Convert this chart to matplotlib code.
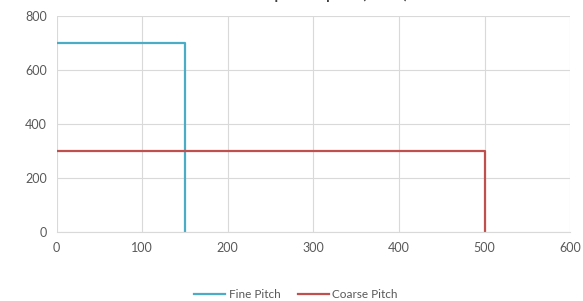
import matplotlib
matplotlib.use("Agg")
from matplotlib import pyplot as plt

# data
fine_x = [0, 150, 150]
fine_y = [700, 700, 0]
coarse_x = [0, 500, 500]
coarse_y = [300, 300, 0]
x_ticks = [0, 100, 200, 300, 400, 500, 600]
y_ticks = [0, 200, 400, 600, 800]

plt.rcParams["font.family"] = ["Lato", "DejaVu Sans"]

fig = plt.figure(figsize=(5.83, 3.01), dpi=100)
ax = fig.add_axes([0.097, 0.229, 0.881, 0.718])

ax.plot(fine_x, fine_y, color="#4BACC6", lw=1.6, label="Fine Pitch")
ax.plot(coarse_x, coarse_y, color="#C0504D", lw=1.6, label="Coarse Pitch")

ax.set_xlim(0, 600)
ax.set_ylim(0, 800)
ax.set_xticks(x_ticks)
ax.set_yticks(y_ticks)
ax.grid(True, color="#D9D9D9", lw=0.8)
ax.set_axisbelow(True)
for s in ["top", "right", "left"]:
    ax.spines[s].set_visible(False)
ax.spines["bottom"].set_color("#D9D9D9")
ax.tick_params(length=0, labelsize=9, labelcolor="#595959", pad=7)

# title is almost entirely cut off at the top edge, as in the source image
fig.text(0.5, 1 + 1.5 / 301, "Feed Rate vs. Spindle Speed (mm/s)", ha="center",
         va="baseline", fontsize=10.5, fontweight="bold", color="#404040")

fig.legend(loc="center", bbox_to_anchor=(0.508, 0.02), ncol=2, frameon=False,
           fontsize=8.5, handlelength=2.6, columnspacing=1.5, handletextpad=0.3,
           labelcolor="#595959")

fig.savefig("out.png", dpi=100)
